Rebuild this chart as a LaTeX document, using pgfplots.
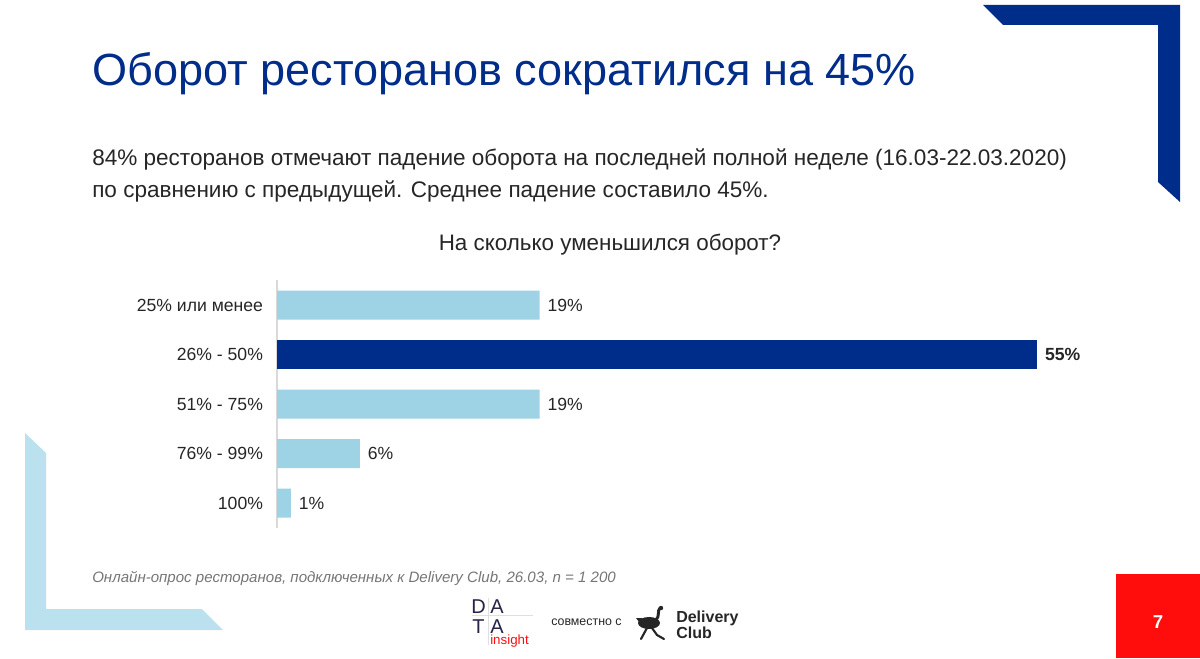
\documentclass[border=0pt]{standalone}
\usepackage{pgfplots}
\pgfplotsset{compat=1.18}
\usepackage{fontspec}
\setmainfont{Liberation Sans}
\definecolor{dblue}{RGB}{0,45,137}
\definecolor{lblue}{RGB}{158,211,230}
\definecolor{decblue}{RGB}{187,224,238}
\definecolor{txt}{RGB}{38,38,38}
\definecolor{note}{RGB}{118,118,118}
\definecolor{pred}{RGB}{255,13,13}
\definecolor{dpurple}{RGB}{40,34,70}
\begin{document}
\begin{tikzpicture}[x=0.75pt,y=0.75pt]
\useasboundingbox (0,0) rectangle (1200,658);
\fill[white] (0,0) rectangle (1200,658);
% decorations
\fill[dblue] (983,653) -- (1180,653) -- (1180,456) -- (1158,476) -- (1158,633) -- (1003,633) -- cycle;
\fill[decblue] (25,225) -- (46,205) -- (46,49) -- (202,49) -- (223,28) -- (25,28) -- cycle;
\fill[pred] (1116,0) rectangle (1200,84);
\node[text=white,font=\fontsize{14}{16}\selectfont\bfseries] at (1158,36) {7};
% titles
\node[anchor=base west,inner sep=0,text=dblue,font=\fontsize{33.8}{38}\selectfont] at (92,572) {Оборот ресторанов сократился на 45\%};
\node[anchor=base west,inner sep=0,text=txt,font=\fontsize{16.9}{20}\selectfont] at (92,492) {84\% ресторанов отмечают падение оборота на последней полной неделе (16.03-22.03.2020)};
\node[anchor=base west,inner sep=0,text=txt,font=\fontsize{16.9}{20}\selectfont] at (92,460) {по сравнению с предыдущей. Среднее падение составило 45\%.};
\node[anchor=base,inner sep=0,text=txt,font=\fontsize{16.8}{20}\selectfont] at (610,407) {На сколько уменьшился оборот?};
% footnote
\node[anchor=base west,inner sep=0,text=note,font=\fontsize{11.3}{13}\selectfont\itshape] at (92,76) {Онлайн-опрос ресторанов, подключенных к Delivery Club, 26.03, n = 1 200};
% logos
\draw[gray!25,line width=0.6pt] (488,60) -- (488,13);
\draw[gray!25,line width=0.6pt] (472,43) -- (533,43);
\node[anchor=base west,inner sep=0,text=dpurple,font=\fontsize{15}{16}\selectfont] at (471,45) {D};
\node[anchor=base west,inner sep=0,text=dpurple,font=\fontsize{15}{16}\selectfont] at (490,45) {A};
\node[anchor=base west,inner sep=0,text=dpurple,font=\fontsize{15}{16}\selectfont] at (472,25) {T};
\node[anchor=base west,inner sep=0,text=dpurple,font=\fontsize{15}{16}\selectfont] at (490,25) {A};
\node[anchor=base west,inner sep=0,text=pred,font=\fontsize{10}{11}\selectfont] at (490,14) {insight};
\node[anchor=base west,inner sep=0,text=txt,font=\fontsize{9.3}{10}\selectfont] at (551,33) {совместно с};
\fill[black!85] (649,35) ellipse [x radius=11, y radius=6];
\fill[black!85] (636,40) -- (642,32) -- (642,40) -- cycle;
\draw[black!85,line width=2.2pt,line cap=round] (656,38) .. controls (660,42) and (657,47) .. (660,50);
\fill[black!85] (661,50) circle (2.2);
\draw[black!85,line width=1.6pt,line cap=round] (647,30) -- (641,19);
\draw[black!85,line width=1.6pt,line cap=round] (652,30) -- (657,23) -- (664,19);
\node[anchor=base west,inner sep=0,text=txt,font=\fontsize{12}{14}\selectfont\bfseries] at (676,36) {Delivery};
\node[anchor=base west,inner sep=0,text=txt,font=\fontsize{12}{14}\selectfont\bfseries] at (676,20) {Club};
% chart
\begin{axis}[
  at={(207.75pt,97.69pt)}, anchor=south west,
  scale only axis, width=570pt, height=185.625pt,
  xmin=0, xmax=55, ymin=-0.5, ymax=4.5, y dir=reverse,
  axis x line=none, axis y line=left,
  y axis line style={draw=gray!30,line width=0.8pt,-},
  ytick={0,1,2,3,4},
  yticklabels={25\% или менее,26\% - 50\%,51\% - 75\%,76\% - 99\%,100\%},
  major tick length=0pt,
  yticklabel style={font=\fontsize{13.2}{15}\selectfont,text=txt,xshift=-7pt},
  xbar, bar width=21.75pt, bar shift=0pt,
  clip=false,
  /pgf/number format/assume math mode=true,
  nodes near coords={\pgfmathprintnumber{\pgfplotspointmeta}\%},
  nodes near coords style={anchor=west,xshift=2.5pt,font=\fontsize{13.2}{15}\selectfont,text=txt},
]
\addplot[fill=lblue,draw=none] coordinates {(19,0) (19,2) (6,3) (1,4)};
\addplot[fill=dblue,draw=none,nodes near coords style={font=\fontsize{13.2}{15}\selectfont\bfseries}] coordinates {(55,1)};
\end{axis}
\end{tikzpicture}
\end{document}
